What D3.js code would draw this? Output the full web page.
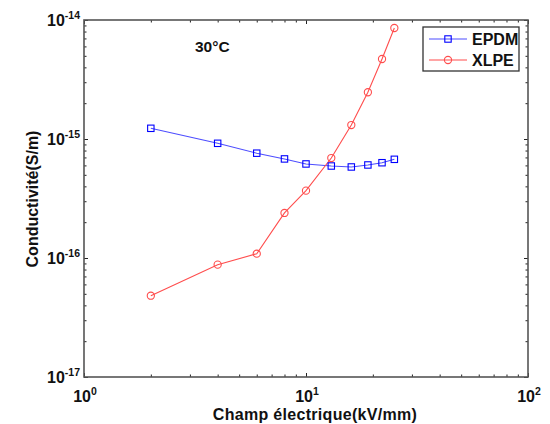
<!DOCTYPE html>
<html>
<head>
<meta charset="utf-8">
<script src="https://cdn.jsdelivr.net/npm/d3@7"></script>
<style>
  body { margin: 0; background: #fff; }
  text { font-family: "Liberation Sans", Arial, sans-serif; font-weight: bold; fill: #111; }
</style>
</head>
<body>
<div id="myChart"></div>
<script>
// data
let field = [2, 4, 6, 8, 10, 13, 16, 19, 22, 25];
let epdm = [1.23e-15, 9.2e-16, 7.6e-16, 6.8e-16, 6.17e-16, 5.93e-16, 5.82e-16, 6.05e-16, 6.32e-16, 6.75e-16];
let xlpe = [4.82e-17, 8.79e-17, 1.087e-16, 2.39e-16, 3.68e-16, 6.92e-16, 1.31e-15, 2.47e-15, 4.7e-15, 8.57e-15];
let xTicks = [1, 10, 100];
let xExp = ["0", "1", "2"];
let yTicks = [1e-17, 1e-16, 1e-15, 1e-14];
let yExp = ["-17", "-16", "-15", "-14"];
let seriesNames = ["EPDM", "XLPE"];

let margin = {top: 20, right: 22, bottom: 47, left: 84},
    width = 550 - margin.left - margin.right,
    height = 424 - margin.top - margin.bottom;

let svg = d3.select("#myChart")
    .append("svg")
        .attr("width", 550)
        .attr("height", 424)
    .append("g")
        .attr("transform", "translate(" + margin.left + "," + margin.top + ")");

let x = d3.scaleLog().domain([1, 100]).range([0, width]);
let y = d3.scaleLog().domain([1e-17, 1e-14]).range([height, 0]);

// minor ticks 2..9 per decade
let xMinor = [], yMinor = [];
[1, 10].forEach(function (d) { for (let k = 2; k < 10; k++) xMinor.push(d * k); });
yTicks.slice(0, 3).forEach(function (d) { for (let k = 2; k < 10; k++) yMinor.push(d * k); });

function drawAxis(gen, tr) {
    let g = svg.append("g").attr("transform", tr).call(gen);
    g.select(".domain").remove();
    g.selectAll(".tick line").attr("stroke", "#222").attr("stroke-width", 1);
    return g;
}

drawAxis(d3.axisBottom(x).tickValues(xTicks).tickSize(-4).tickFormat(""), "translate(0," + height + ")");
drawAxis(d3.axisBottom(x).tickValues(xMinor).tickSize(-2.5).tickFormat(""), "translate(0," + height + ")");
drawAxis(d3.axisTop(x).tickValues(xTicks).tickSize(-4).tickFormat(""), "translate(0,0)");
drawAxis(d3.axisTop(x).tickValues(xMinor).tickSize(-2.5).tickFormat(""), "translate(0,0)");
drawAxis(d3.axisLeft(y).tickValues(yTicks).tickSize(-4).tickFormat(""), "translate(0,0)");
drawAxis(d3.axisLeft(y).tickValues(yMinor).tickSize(-2.5).tickFormat(""), "translate(0,0)");
drawAxis(d3.axisRight(y).tickValues(yTicks).tickSize(-4).tickFormat(""), "translate(" + width + ",0)");
drawAxis(d3.axisRight(y).tickValues(yMinor).tickSize(-2.5).tickFormat(""), "translate(" + width + ",0)");

// frame
svg.append("rect")
    .attr("width", width)
    .attr("height", height)
    .attr("fill", "none")
    .attr("stroke", "#555")
    .attr("stroke-width", 1.6);

// tick labels with superscripts
let xl = svg.append("g").selectAll("text")
    .data(xTicks)
    .enter()
    .append("text")
        .attr("x", function (d) { return x(d) + 1; })
        .attr("y", height + 25)
        .attr("text-anchor", "middle")
        .style("font-size", "16px");
xl.append("tspan").text("10");
xl.append("tspan").attr("dy", -7).style("font-size", "10.5px").text(function (d, i) { return xExp[i]; });

let yl = svg.append("g").selectAll("text")
    .data(yTicks)
    .enter()
    .append("text")
        .attr("x", -4)
        .attr("y", function (d) { return y(d) + 6; })
        .attr("text-anchor", "end")
        .style("font-size", "16px");
yl.append("tspan").text("10");
yl.append("tspan").attr("dy", -7).style("font-size", "10.5px").text(function (d, i) { return yExp[i]; });

// axis titles
svg.append("text")
    .attr("x", 231)
    .attr("y", height + 43)
    .attr("text-anchor", "middle")
    .style("font-size", "16px")
    .style("letter-spacing", "0.3px")
    .text("Champ électrique(kV/mm)");

svg.append("text")
    .attr("transform", "translate(-46," + 179 + ") rotate(-90)")
    .attr("text-anchor", "middle")
    .style("font-size", "16px")
    .text("Conductivité(S/m)");

svg.append("text")
    .attr("x", 111)
    .attr("y", 32)
    .style("font-size", "15.5px")
    .text("30°C");

// lines
let line = function (vals) {
    return d3.line()
        .x(function (d, i) { return x(field[i]); })
        .y(function (d) { return y(d); })(vals);
};

svg.append("path")
    .attr("d", line(epdm))
    .attr("fill", "none")
    .attr("stroke", "#4d4dff")
    .attr("stroke-width", 1.1);

svg.append("path")
    .attr("d", line(xlpe))
    .attr("fill", "none")
    .attr("stroke", "#ff4d4d")
    .attr("stroke-width", 1.1);

// markers
svg.append("g")
    .selectAll("rect")
    .data(epdm)
    .enter()
    .append("rect")
        .attr("x", function (d, i) { return x(field[i]) - 3.2; })
        .attr("y", function (d) { return y(d) - 3.2; })
        .attr("width", 6.4)
        .attr("height", 6.4)
        .attr("fill", "none")
        .attr("stroke", "#0000ff")
        .attr("stroke-width", 1.1);

svg.append("g")
    .selectAll("circle")
    .data(xlpe)
    .enter()
    .append("circle")
        .attr("cx", function (d, i) { return x(field[i]); })
        .attr("cy", function (d) { return y(d); })
        .attr("r", 3.6)
        .attr("fill", "none")
        .attr("stroke", "#ff4d4d")
        .attr("stroke-width", 1.1);

// legend
let legend = svg.append("g").attr("transform", "translate(339,7)");
legend.append("rect")
    .attr("width", 96)
    .attr("height", 44)
    .attr("fill", "#fff")
    .attr("stroke", "#333")
    .attr("stroke-width", 1.3);

let colors = ["#4d4dff", "#ff4d4d"];
seriesNames.forEach(function (name, i) {
    let ly = 12 + i * 21;
    legend.append("line")
        .attr("x1", 6).attr("x2", 44)
        .attr("y1", ly).attr("y2", ly)
        .attr("stroke", colors[i])
        .attr("stroke-width", 1.1);
    if (i == 0) {
        legend.append("rect")
            .attr("x", 25 - 3.2).attr("y", ly - 3.2)
            .attr("width", 6.4).attr("height", 6.4)
            .attr("fill", "none").attr("stroke", "#0000ff").attr("stroke-width", 1.1);
    } else {
        legend.append("circle")
            .attr("cx", 25).attr("cy", ly).attr("r", 3.6)
            .attr("fill", "none").attr("stroke", "#ff4d4d").attr("stroke-width", 1.1);
    }
    legend.append("text")
        .attr("x", 49)
        .attr("y", ly + 6)
        .style("font-size", "16px")
        .text(name);
});
</script>
</body>
</html>
